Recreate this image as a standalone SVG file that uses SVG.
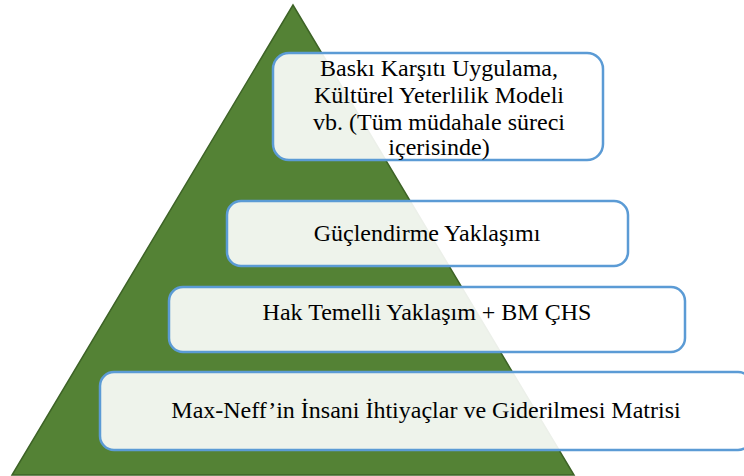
<svg xmlns="http://www.w3.org/2000/svg" width="744" height="476" viewBox="0 0 744 476">
<style>
.box{fill:#fff;fill-opacity:0.9;stroke:#5b9bd5;stroke-width:2.5}
</style>
<rect width="744" height="476" fill="#fff"/>
<g id="pyramid">
<polygon points="293,5 12,475 574,475" fill="#548235" stroke="#3d6326" stroke-width="1.5"/>
</g>
<g id="connectors"></g>
<g id="node1" font-family="Times New Roman" font-size="24" text-anchor="middle" fill="#000">
<rect class="box" x="273" y="53" width="330" height="107" rx="16"/>
<text x="439" y="76">Baskı Karşıtı Uygulama,</text>
<text x="439" y="103">Kültürel Yeterlilik Modeli</text>
<text x="439" y="130">vb. (Tüm müdahale süreci</text>
<text x="439" y="155">içerisinde)</text>
</g>
<g id="node2" font-family="Times New Roman" font-size="24" text-anchor="middle" fill="#000">
<rect class="box" x="227" y="201" width="401" height="65" rx="14"/>
<text x="427" y="241">Güçlendirme Yaklaşımı</text>
</g>
<g id="node3" font-family="Times New Roman" font-size="24" text-anchor="middle" fill="#000">
<rect class="box" x="169" y="287" width="516" height="65" rx="14"/>
<text x="427" y="320">Hak Temelli Yaklaşım + BM ÇHS</text>
</g>
<g id="node4" font-family="Times New Roman" font-size="24" text-anchor="middle" fill="#000">
<rect class="box" x="100" y="372" width="652" height="78" rx="14"/>
<text x="426" y="418">Max-Neff’in İnsani İhtiyaçlar ve Giderilmesi Matrisi</text>
</g>
</svg>
